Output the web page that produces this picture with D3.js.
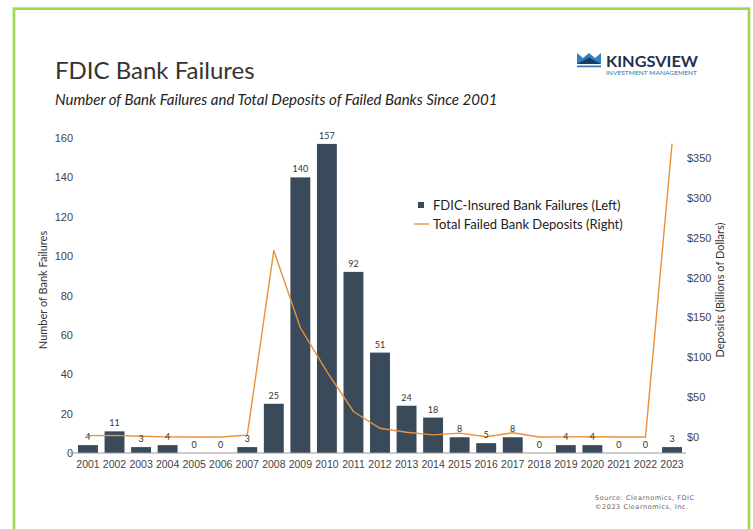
<!DOCTYPE html>
<html lang="en">
<head>
  <meta charset="UTF-8">
  <title>FDIC Bank Failures</title>
  <script src="https://d3js.org/d3.v7.min.js"></script>
  <style>
    body { margin: 0; background: #fff; }
    svg { display: block; font-family: Lato, sans-serif; }
    .tick-label { font-size: 11px; fill: #444; }
    .year-label { font-size: 10.5px; fill: #444; }
    .bar { fill: #394a5b; }
    .bar-label { font-size: 9px; fill: #333; text-anchor: middle; }
  </style>
</head>
<body>
  <svg width="753" height="529"></svg>

  <script>
    const years = ['2001', '2002', '2003', '2004', '2005', '2006', '2007', '2008', '2009', '2010', '2011', '2012',
      '2013', '2014', '2015', '2016', '2017', '2018', '2019', '2020', '2021', '2022', '2023'];
    const failures = [4, 11, 3, 4, 0, 0, 3, 25, 140, 157, 92, 51, 24, 18, 8, 5, 8, 0, 4, 4, 0, 0, 3];
    const deposits = [1.7, 2.0, 0.9, 0.2, 0, 0, 2.4, 234, 137, 82, 32, 11, 6, 2.7, 4.9, 0.3, 5.3, 0, 0.2, 0.4, 0, 0, 368];
    const leftTicks = [0, 20, 40, 60, 80, 100, 120, 140, 160];
    const rightTicks = [0, 50, 100, 150, 200, 250, 300, 350];

    const svg = d3.select('svg');

    // green frame
    svg.append('rect')
      .attr('x', 14).attr('y', 8.7)
      .attr('width', 735).attr('height', 560)
      .attr('fill', 'none')
      .attr('stroke', '#9fd851')
      .attr('stroke-width', 2.7);

    // titles
    svg.append('text')
      .attr('x', 55).attr('y', 78.5)
      .attr('font-size', 24)
      .attr('fill', '#333')
      .text('FDIC Bank Failures');

    svg.append('text')
      .attr('x', 55).attr('y', 105)
      .attr('font-size', 15)
      .attr('font-style', 'italic')
      .attr('fill', '#222')
      .text('Number of Bank Failures and Total Deposits of Failed Banks Since 2001');

    // logo
    const logo = svg.append('g').attr('transform', 'translate(577, 53)');
    logo.append('path').attr('d', 'M0,0 L6,5 L12,0 L18,5 L24,0 L24,11 L0,11 Z').attr('fill', '#2f7fc1');
    logo.append('path').attr('d', 'M0,11 L12,4.5 L24,11 Z').attr('fill', '#1b3b66');
    logo.append('rect').attr('x', 0).attr('y', 12.5).attr('width', 24).attr('height', 1.8).attr('fill', '#2f7fc1');
    logo.append('text')
      .attr('x', 29).attr('y', 13.8)
      .attr('font-size', 15).attr('font-weight', 'bold')
      .attr('textLength', 92).attr('lengthAdjust', 'spacingAndGlyphs')
      .attr('fill', '#1f3350')
      .text('KINGSVIEW');
    logo.append('text')
      .attr('x', 29).attr('y', 21.7)
      .attr('font-size', 6.3)
      .attr('textLength', 91).attr('lengthAdjust', 'spacingAndGlyphs')
      .attr('fill', '#2f6fae')
      .text('INVESTMENT MANAGEMENT');

    // scales
    const x = d3.scaleBand()
      .domain(years)
      .range([74.7, 685.3])
      .paddingInner(0.25)
      .paddingOuter(0.125);

    const yL = d3.scaleLinear().domain([0, 160]).range([453, 138]);
    const yR = d3.scaleLinear().domain([0, 350]).range([437, 158]);

    // left axis
    const leftAxis = svg.append('g')
      .attr('transform', 'translate(73, 0)')
      .call(d3.axisLeft(yL).tickValues(leftTicks).tickSize(0).tickPadding(0));
    leftAxis.select('.domain').remove();
    leftAxis.selectAll('text').attr('class', 'tick-label').attr('font-family', null).attr('font-size', null);

    // right axis
    const rightAxis = svg.append('g')
      .attr('transform', 'translate(687, 0)')
      .call(d3.axisRight(yR).tickValues(rightTicks).tickSize(0).tickPadding(0).tickFormat(d => '$' + d));
    rightAxis.select('.domain').remove();
    rightAxis.selectAll('text').attr('class', 'tick-label').attr('font-family', null).attr('font-size', null);

    // bars
    svg.selectAll('.bar')
      .data(years)
      .enter()
      .append('rect')
      .attr('class', 'bar')
      .attr('x', d => x(d))
      .attr('width', x.bandwidth())
      .attr('y', (d, i) => yL(failures[i]))
      .attr('height', (d, i) => yL(0) - yL(failures[i]));

    // x axis
    const bottomAxis = svg.append('g')
      .attr('transform', `translate(0, ${yL(0)})`)
      .call(d3.axisBottom(x).tickSize(0).tickPadding(8));
    bottomAxis.select('.domain').remove();
    bottomAxis.selectAll('text').attr('class', 'year-label').attr('font-family', null).attr('font-size', null);
    svg.append('line')
      .attr('x1', 70).attr('x2', 686)
      .attr('y1', yL(0)).attr('y2', yL(0))
      .attr('stroke', '#999').attr('stroke-width', 1);

    // deposits line
    const line = d3.line()
      .x((d, i) => x(years[i]) + x.bandwidth() / 2)
      .y(d => yR(d));
    svg.append('path')
      .datum(deposits)
      .attr('fill', 'none')
      .attr('stroke', '#e8913a')
      .attr('stroke-width', 1.4)
      .attr('d', line);

    // bar labels
    svg.selectAll('.bar-label')
      .data(years)
      .enter()
      .append('text')
      .attr('class', 'bar-label')
      .attr('x', d => x(d) + x.bandwidth() / 2)
      .attr('y', (d, i) => yL(failures[i]) - 5)
      .text((d, i) => failures[i]);

    // axis titles
    svg.append('text')
      .attr('transform', 'translate(47, 290) rotate(-90)')
      .attr('text-anchor', 'middle')
      .attr('font-size', 11)
      .attr('fill', '#333')
      .text('Number of Bank Failures');

    svg.append('text')
      .attr('transform', 'translate(724, 290) rotate(-90)')
      .attr('text-anchor', 'middle')
      .attr('font-size', 11)
      .attr('fill', '#333')
      .text('Deposits (Billions of Dollars)');

    // legend
    const legend = svg.append('g');
    legend.append('rect')
      .attr('x', 418).attr('y', 202)
      .attr('width', 6).attr('height', 6)
      .attr('fill', '#394a5b');
    legend.append('text')
      .attr('x', 433).attr('y', 209.5)
      .attr('font-size', 13).attr('fill', '#222')
      .text('FDIC-Insured Bank Failures (Left)');
    legend.append('line')
      .attr('x1', 414).attr('x2', 429)
      .attr('y1', 224).attr('y2', 224)
      .attr('stroke', '#e8913a').attr('stroke-width', 1.4);
    legend.append('text')
      .attr('x', 433).attr('y', 228.5)
      .attr('font-size', 13).attr('fill', '#222')
      .text('Total Failed Bank Deposits (Right)');

    // source
    svg.append('text')
      .attr('x', 595).attr('y', 500)
      .attr('font-size', 6.5).attr('font-family', 'DejaVu Sans')
      .attr('textLength', 99).attr('lengthAdjust', 'spacing')
      .attr('fill', '#666')
      .text('Source: Clearnomics, FDIC');
    svg.append('text')
      .attr('x', 595).attr('y', 509)
      .attr('font-size', 6.5).attr('font-family', 'DejaVu Sans')
      .attr('textLength', 93).attr('lengthAdjust', 'spacing')
      .attr('fill', '#666')
      .text('©2023 Clearnomics, Inc.');
  </script>
</body>
</html>
